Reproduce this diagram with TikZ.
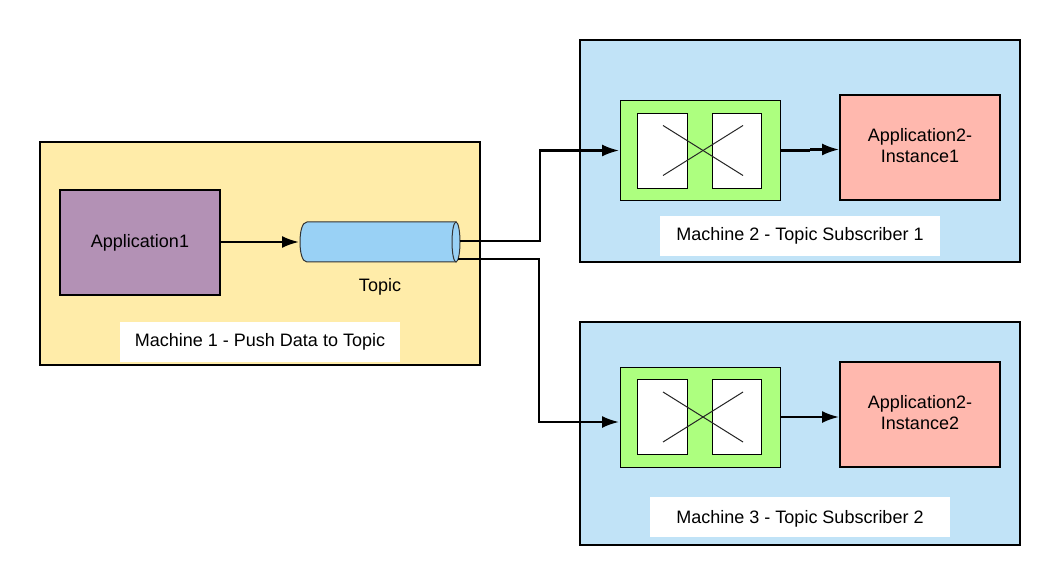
\documentclass[tikz,border=0pt]{standalone}
\usepackage{fontspec}
\setmainfont{Liberation Sans}
\usetikzlibrary{arrows.meta}
\definecolor{machineyellow}{HTML}{FFECA9}
\definecolor{machineblue}{HTML}{C1E3F7}
\definecolor{apppurple}{HTML}{B391B5}
\definecolor{apppink}{HTML}{FFB8AE}
\definecolor{queuegreen}{HTML}{ADFF7F}
\definecolor{topicblue}{HTML}{99D1F5}
\tikzset{
  box/.style={draw,line width=2pt,inner sep=0pt,outer sep=0pt,align=center,font=\fontsize{18}{21}\selectfont},
  machine/.style={box,minimum width=440pt,minimum height=222.5pt},
  app/.style={box,minimum width=160pt,minimum height=105pt},
  caption/.style={fill=white,inner sep=0pt,outer sep=0pt,minimum height=40pt,font=\fontsize{18}{21}\selectfont},
  queue/.style={draw,line width=1pt,fill=queuegreen,inner sep=0pt,outer sep=0pt,minimum width=160pt,minimum height=100pt},
  slot/.style={draw,line width=1pt,fill=white,inner sep=0pt,minimum height=75pt},
  crossline/.style={line width=1pt,black!85},
  link/.style={->,line width=2.2pt,shorten >=1pt},
}
\begin{document}
\begin{tikzpicture}[x=1pt,y=-1pt,>={Latex[length=17pt,width=12pt]}]
  \useasboundingbox[fill=white] (0,0) rectangle (1060,585);
  % machines
  \node[machine,fill=machineyellow] (machine1) at (260,253.4) {};
  \node[machine,fill=machineblue] (machine2) at (800,151) {};
  \node[machine,fill=machineblue] (machine3) at (800,433.4) {};
  % machine 1
  \node[app,fill=apppurple] (app1) at (140,242.6) {Application1};
  % topic tube
  \draw[line width=1pt,fill=topicblue,draw=black!80] (307,222) -- (456,222) -- (456,262) -- (307,262)
    .. controls (302,262) and (300,252) .. (300,242) .. controls (300,232) and (302,222) .. (307,222) -- cycle;
  \draw[line width=1pt,fill=topicblue,draw=black!80] (456,242) ellipse (4 and 20);
  \node[font=\fontsize{18}{21}\selectfont] (topiclabel) at (380,286.5) {Topic};
  \node[caption,minimum width=280pt] (caption1) at (260,342) {Machine 1 - Push Data to Topic};
  % machine 2
  \node[queue] (queue1) at (700,150.5) {};
  \node[slot,minimum width=50pt] (slot1a) at (662,151) {};
  \node[slot,minimum width=49pt] (slot1b) at (736.5,151) {};
  \coordinate (cross1a) at (663,125.5);
  \coordinate (cross1b) at (743,175.5);
  \coordinate (cross1c) at (663,175.5);
  \coordinate (cross1d) at (743,125.5);
  \draw[crossline] (cross1a) -- (cross1b);
  \draw[crossline] (cross1c) -- (cross1d);
  \node[app,fill=apppink,text depth=4pt] (inst1) at (920,147.5) {Application2-\\Instance1};
  \node[caption,minimum width=280pt] (caption2) at (800,236) {Machine 2 - Topic Subscriber 1};
  % machine 3
  \node[queue] (queue2) at (700,417) {};
  \node[slot,minimum width=50pt] (slot2a) at (662,417) {};
  \node[slot,minimum width=49pt] (slot2b) at (736.5,417) {};
  \coordinate (cross2a) at (663,392);
  \coordinate (cross2b) at (743,442);
  \coordinate (cross2c) at (663,442);
  \coordinate (cross2d) at (743,392);
  \draw[crossline] (cross2a) -- (cross2b);
  \draw[crossline] (cross2c) -- (cross2d);
  \node[app,fill=apppink,text depth=4pt] (inst2) at (920,414.5) {Application2-\\Instance2};
  \node[caption,minimum width=300pt,text height=17pt] (caption3) at (800,517) {Machine 3 - Topic Subscriber 2};
  % connectors
  \coordinate (app1out) at (220,242);
  \coordinate (topicin) at (300,242);
  \coordinate (topicouta) at (460,241);
  \coordinate (topicoutb) at (458,259);
  \coordinate (queue2in) at (620,422);
  \coordinate (queue1out) at (810,150.5);
  \coordinate (inst1from) at (810,149.5);
  \coordinate (inst1in) at (840,149.5);
  \coordinate (inst2in) at (840,417);
  \draw[link] (app1out) -- (topicin);
  \draw[link] (topicouta) -- (540,241) |- (queue1.west);
  \draw[link] (topicoutb) -- (539,259) |- (queue2in);
  \draw[line width=2.2pt] (queue1.east) -- (queue1out);
  \draw[link] (inst1from) -- (inst1in);
  \draw[link] (queue2.east) -- (inst2in);
\end{tikzpicture}
\end{document}
